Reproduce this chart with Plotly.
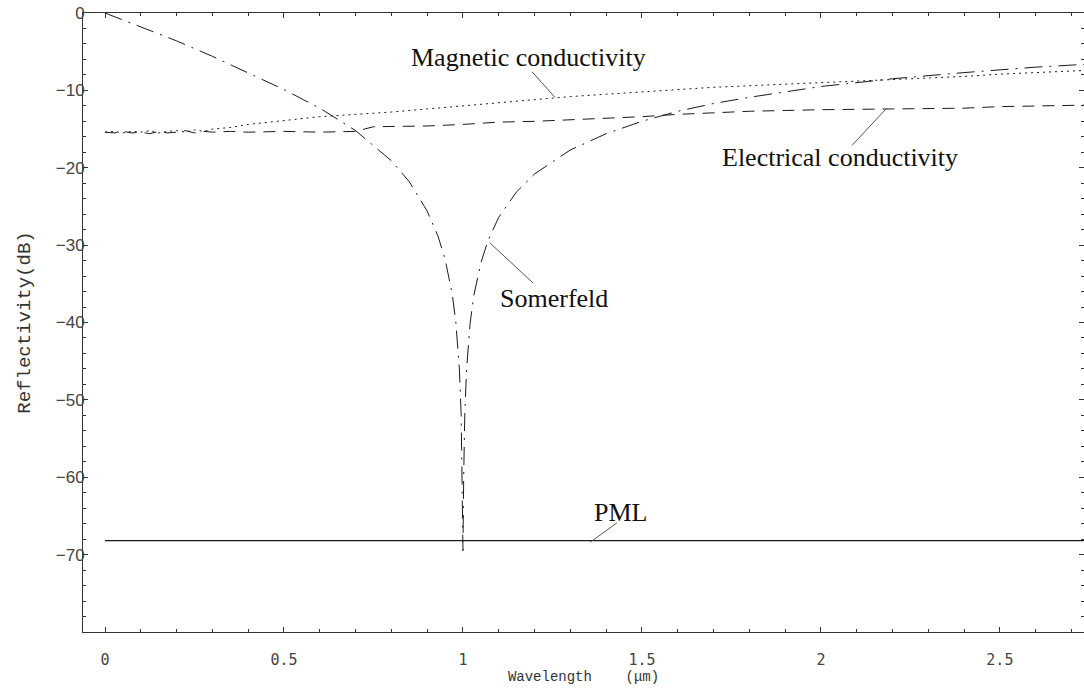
import plotly.graph_objects as go

# ---------------- data ----------------
som_x = [0, 0.1, 0.2, 0.3, 0.4, 0.5, 0.6, 0.7, 0.8, 0.85, 0.9, 0.93, 0.95, 0.97,
         0.98, 0.99, 0.995, 0.998, 1.0, 1.002, 1.005, 1.01, 1.02, 1.03, 1.05, 1.07,
         1.1, 1.15, 1.2, 1.3, 1.4, 1.5, 1.6, 1.7, 1.8, 1.9, 2.0, 2.2, 2.4, 2.6, 2.75]
som_y = [0, -1.8, -3.6, -5.6, -7.7, -9.9, -12.3, -15.2, -19.1, -21.8, -25.6, -28.8,
         -31.8, -36.3, -39.9, -46.0, -52.0, -60.0, -69.5, -60.0, -52.1, -46.1, -40.1,
         -36.6, -32.3, -29.4, -26.4, -23.1, -20.8, -17.7, -15.6, -14.0, -12.7, -11.7,
         -10.9, -10.2, -9.5, -8.5, -7.7, -7.0, -6.6]

mag_x = [0, 0.025, 0.05, 0.075, 0.1, 0.125, 0.15, 0.175, 0.2, 0.225, 0.25, 0.275,
         0.3, 0.35, 0.4, 0.5, 0.6, 0.7, 0.8, 0.9, 1.0, 1.1, 1.2, 1.3, 1.4, 1.5, 1.6,
         1.7, 1.8, 1.9, 2.0, 2.1, 2.2, 2.3, 2.4, 2.5, 2.6, 2.75]
mag_y = [-15.4, -15.3, -15.5, -15.3, -15.4, -15.2, -15.5, -15.3, -15.2, -15.4, -15.1,
         -15.3, -15.0, -14.8, -14.4, -13.9, -13.4, -13.1, -12.8, -12.4, -12.0, -11.6,
         -11.2, -10.8, -10.5, -10.2, -9.9, -9.6, -9.4, -9.2, -9.0, -8.8, -8.6, -8.4,
         -8.2, -7.9, -7.7, -7.4]

ele_x = [0, 0.025, 0.05, 0.075, 0.1, 0.125, 0.15, 0.175, 0.2, 0.225, 0.25, 0.275,
         0.3, 0.35, 0.4, 0.5, 0.6, 0.7, 0.75, 0.9, 1.0, 1.1, 1.2, 1.3, 1.4, 1.5,
         1.6, 1.7, 1.8, 1.9, 2.0, 2.2, 2.4, 2.5, 2.6, 2.75]
ele_y = [-15.4, -15.5, -15.3, -15.5, -15.4, -15.6, -15.3, -15.5, -15.4, -15.2, -15.5,
         -15.3, -15.4, -15.3, -15.4, -15.3, -15.4, -15.3, -14.7, -14.6, -14.4, -14.1,
         -14.0, -13.8, -13.6, -13.4, -13.1, -12.9, -12.7, -12.6, -12.5, -12.4, -12.3,
         -12.1, -12.0, -11.9]

pml_x = [0, 2.75]
pml_y = [-68.2, -68.2]

x_ticks = [0, 0.5, 1, 1.5, 2, 2.5]
x_tick_labels = ["0", "0.5", "1", "1.5", "2", "2.5"]
y_ticks = [0, -10, -20, -30, -40, -50, -60, -70]

# ---------------- figure ----------------
fig = go.Figure()
line_col = "#1a1a1a"
fig.add_trace(go.Scatter(x=som_x, y=som_y, mode="lines",
                         line=dict(color=line_col, width=1, dash="18px,7px,2px,7px")))
fig.add_trace(go.Scatter(x=mag_x, y=mag_y, mode="lines",
                         line=dict(color=line_col, width=1, dash="2px,4px")))
fig.add_trace(go.Scatter(x=ele_x, y=ele_y, mode="lines",
                         line=dict(color=line_col, width=1, dash="12px,8px")))
fig.add_trace(go.Scatter(x=pml_x, y=pml_y, mode="lines",
                         line=dict(color=line_col, width=1.3)))

ann_font = dict(family="Liberation Serif, Times New Roman, serif", size=26, color="#111")
labels = [
    ("Magnetic conductivity", 1.182, -5.7, (1.193, -7.6), (1.257, -10.9)),
    ("Electrical conductivity", 2.053, -18.7, (2.087, -17.1), (2.184, -12.3)),
    ("Somerfeld", 1.255, -36.9, (1.075, -29.7), (1.196, -34.9)),
    ("PML", 1.441, -64.5, (1.355, -68.4), (1.430, -65.9)),
]
for text, tx, ty, p0, p1 in labels:
    fig.add_annotation(x=tx, y=ty, text=text, showarrow=False, font=ann_font,
                       xanchor="center", yanchor="middle")
    fig.add_shape(type="line", x0=p0[0], y0=p0[1], x1=p1[0], y1=p1[1],
                  line=dict(color="#555", width=1))

axis_col = "#333"
fig.update_layout(
    width=1084, height=688,
    margin=dict(l=83, r=0, t=13, b=56),
    paper_bgcolor="white", plot_bgcolor="white",
    showlegend=False,
    xaxis=dict(range=[-0.0615, 2.735], tickvals=x_ticks, ticktext=x_tick_labels,
               showgrid=False, zeroline=False, showline=True, linecolor=axis_col,
               linewidth=1, mirror="ticks", ticks="inside", ticklen=5,
               tickcolor=axis_col, tickwidth=1, ticklabelstandoff=14,
               tickfont=dict(family="DejaVu Sans Mono", size=15, color="#444"),
               minor=dict(dtick=0.1, tick0=0, ticks="inside", ticklen=3,
                          tickcolor=axis_col, showgrid=False),
               title=dict(text="Wavelength    (μm)", standoff=2,
                          font=dict(family="Liberation Mono, Courier New, monospace",
                                    size=14, color="#333"))),
    yaxis=dict(range=[-80, 0], tickvals=y_ticks,
               showgrid=False, zeroline=False, showline=True, linecolor=axis_col,
               linewidth=1, mirror="ticks", ticks="inside", ticklen=5,
               tickcolor=axis_col, tickwidth=1, ticklabelstandoff=-6,
               tickfont=dict(family="Liberation Sans, Arial, sans-serif", size=17,
                             color="#444"),
               minor=dict(dtick=2, tick0=0, ticks="inside", ticklen=3,
                          tickcolor=axis_col, showgrid=False),
               title=dict(text="Reflectivity(dB)", standoff=20,
                          font=dict(family="Liberation Mono, Courier New, monospace",
                                    size=19, color="#333"))),
)

fig.write_html("out.html")
